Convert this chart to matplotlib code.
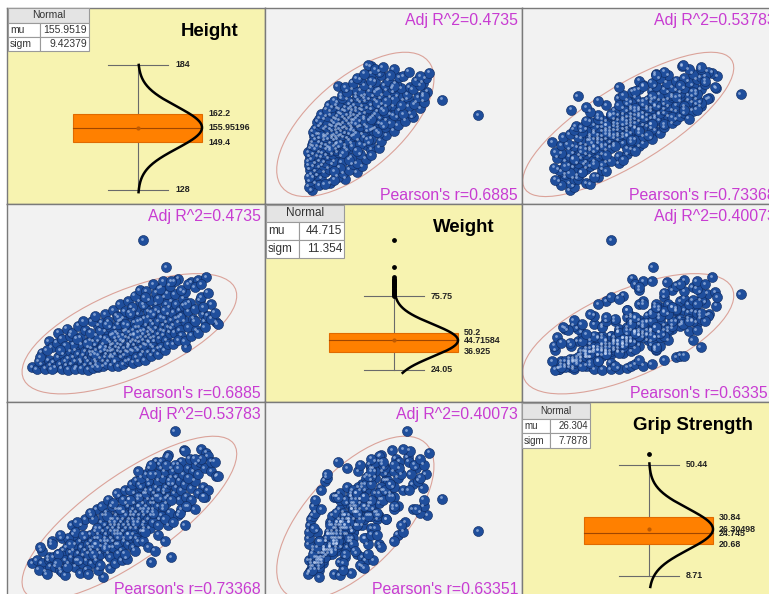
#Scatter matrix of height / weight / grip strength

import numpy as np
import matplotlib.pyplot as plt
from matplotlib.patches import Rectangle, Ellipse
from matplotlib.transforms import Affine2D, offset_copy

plt.rcParams['font.family'] = ['Liberation Sans', 'DejaVu Sans']

#one value per child, same order in all three lists
height = [128, 129.5, 131, 132, 133, 133.5, 133, 130,
          134.5, 135, 136, 136.5, 137, 137.5, 138, 138.5, 139, 139.5, 136,
          140, 140.5, 141, 141, 141.5, 142, 142.5, 143, 143, 143.5, 144, 144, 144.5, 145, 145, 145.5, 145.5, 146, 146, 146, 140.5,
          146.5, 147, 147, 147.5, 147.5, 148, 148, 148.5, 148.5, 149, 149, 149.5, 149.5, 150, 150, 150, 150.5, 150.5, 151, 151,
          151, 151.5, 151.5, 152, 152, 152, 146.5, 147, 148, 149, 150, 151.5, 152,
          152.5, 152.5, 153, 153, 153, 153.5, 153.5, 154, 154, 154, 154.5, 154.5, 155, 155, 155, 155.5, 155.5, 156, 156, 156,
          156.5, 156.5, 157, 157, 157, 157.5, 157.5, 158, 158, 158, 152.5, 153.5, 154, 155, 155.5, 156, 156.5, 157, 157.5, 158, 153, 154.5,
          158.5, 158.5, 159, 159, 159, 159.5, 159.5, 160, 160, 160, 160.5, 160.5, 161, 161, 161, 161.5, 161.5, 162, 162, 162,
          162.5, 162.5, 163, 163, 163, 163.5, 163.5, 164, 164, 164, 158.5, 159, 159.5, 160, 160.5, 161, 161.5, 162, 162.5, 163, 163.5, 164, 161.5,
          164.5, 164.5, 165, 165, 165, 165.5, 165.5, 166, 166, 166.5, 166.5, 167, 167, 167.5, 167.5, 168, 168, 168, 168.5, 168.5,
          169, 169, 169.5, 169.5, 170, 170, 170, 164.5, 165.5, 166, 167, 168.4, 168.7,
          170.5, 170.5, 171, 171, 171.5, 171.5, 172, 172, 172.5, 172.5, 173, 173, 173.5, 173.7, 174, 174, 174.5, 175, 175, 175.5, 176,
          176.5, 177, 177.5, 178, 178.5, 179, 179.5, 180, 180.5, 181, 182, 183.5, 184,
          131, 134, 130.5, 132.5, 134, 135.5, 137, 138, 139, 139.5, 136.5, 138.5,
          140, 141, 142, 142.5, 143, 144, 144.5, 145, 146, 146.5, 147, 147.5, 148, 148.5, 149, 149.5, 141.5, 143.5, 145.5, 147.5,
          150, 150.5, 151, 151.5, 152, 152.5, 153, 153.5, 154, 154.5, 155, 155.5, 156, 156.5, 157, 157.5, 158, 158.5, 159, 159.5,
          150.5, 152.5, 154, 156, 157.5, 159,
          160, 160.5, 161, 161.5, 162, 162.5, 163, 163.5, 164, 164.5, 165, 165.5, 166, 166.5, 167, 167.5, 168, 168.5, 169, 169.5,
          160, 162, 164, 166, 168,
          170.5, 171, 172, 173, 174, 175, 176, 177, 178, 179, 180, 181, 182, 170, 172.5, 174.5, 177, 179.5, 183]
weight = [26, 24.5, 28, 25, 31, 27, 44, 30,
          29, 26, 33, 28, 25, 35, 30, 27, 32, 37, 50,
          28, 33, 30, 38, 26, 35, 31, 29, 42, 34, 27, 37, 32, 40, 30, 36, 45, 28, 34, 39, 42,
          36, 31, 41, 38, 29, 44, 34, 39, 32, 47, 36, 30, 42, 38, 33, 51, 40, 35, 45, 37,
          30, 43, 39, 48, 34, 41, 44, 35, 55, 40, 46, 33, 37,
          42, 38, 46, 35, 53, 40, 44, 37, 49, 42, 39, 58, 45, 36, 41, 48, 43, 39, 51, 44,
          47, 37, 42, 55, 40, 46, 50, 43, 38, 62, 33, 50, 56, 33, 60, 34, 52, 36, 41, 48, 29, 47,
          45, 52, 41, 48, 57, 44, 39, 50, 46, 63, 43, 54, 47, 40, 59, 49, 45, 52, 42, 68,
          47, 55, 50, 44, 61, 48, 53, 46, 58, 41, 37, 66, 54, 38, 72, 51, 36, 60, 41, 65, 43, 52, 115,
          50, 56, 47, 62, 44, 53, 70, 49, 58, 46, 64, 52, 82, 55, 48, 60, 51, 75, 57, 45,
          63, 54, 68, 50, 59, 53, 72, 40, 66, 39, 61, 96, 77.5,
          55, 64, 77, 50, 60, 70, 88, 57, 52, 66, 62, 48, 74, 69, 58, 78.5, 40, 65, 54, 71, 85.5,
          60, 67, 52, 87, 73, 75, 63, 58, 89, 62, 70, 57.6, 56,
          36, 40, 33, 38, 24.5, 43, 46, 41, 24.3, 48, 38, 53,
          50, 24.5, 55, 47, 25, 52, 43, 24.2, 58, 25.5, 62, 48, 26, 52, 57, 26.5, 46, 58, 50, 27,
          63, 28, 58, 54, 27, 66, 30, 62, 26.5, 70, 59, 28, 65, 30, 72, 31, 68, 29, 76, 33,
          56, 49, 61, 56, 64, 49,
          30, 80, 34, 70, 31, 79, 36, 73, 34, 84, 37, 78, 35, 81, 40, 86, 38, 70, 42, 83,
          58, 75, 64, 74, 66,
          42, 86, 45, 80, 44, 84, 48, 82, 50, 84, 54, 78, 60, 86, 61, 70, 58, 68, 64]
grip = [13, 14, 13, 10.5, 14, 12, 15, 11,
        15, 12, 16, 11, 10.3, 17, 14, 18, 13, 16.5, 16,
        15, 17, 12, 19, 14, 16, 20, 13, 18, 15.5, 17, 21, 14, 19, 16, 22, 18, 13, 20, 17, 22,
        18, 15, 21, 19, 14, 22, 17, 24, 16, 20, 18.5, 8.7, 23, 21, 17.5, 25, 19, 22, 24, 16,
        20, 26, 18, 23, 21, 27, 16, 23, 21, 26, 20, 15, 25,
        24, 20, 26, 22, 25, 19, 28, 23, 27, 21, 25, 24, 22, 26, 30, 23, 27, 21, 29, 25,
        24, 28, 26, 31, 22, 27, 25, 29, 24, 28, 18, 30, 19, 17, 29, 20, 32, 19, 33, 21, 23, 34,
        27, 30, 25, 32, 28, 24, 29, 31, 26, 33, 28, 27, 34, 23, 30, 29, 32, 28, 26, 35,
        31, 36, 29, 33, 27, 30, 38, 28, 32, 13.4, 22, 35, 21, 34, 31, 37, 25, 24, 35, 39, 24, 36, 23.2,
        33, 30, 35, 32, 28, 37, 34, 31, 39, 27, 36, 33, 43, 40, 30, 35, 42, 36, 32, 37,
        47, 34, 38, 29, 43, 15, 40, 26, 41, 34, 28, 33.3, 46.5,
        38, 42, 54.7, 35, 40, 37, 28.2, 44, 33, 39, 45, 36, 41, 48.7, 38, 48.5, 34, 43, 31, 46, 36.7,
        42, 39, 44, 41, 45, 49, 37, 43, 47.8, 46.7, 42, 40.5, 40.6,
        17, 20, 18, 9.5, 19, 13, 21, 9.2, 21, 19, 22, 12,
        25, 23, 14, 10, 25, 27, 11, 9.5, 28, 27, 19, 30, 11, 12.5, 31, 28, 26, 22, 29, 24,
        18, 29, 33, 11.5, 31, 27, 13, 35, 16, 30, 14, 33, 36, 14.5, 22, 36, 38, 18, 26, 39,
        28, 32, 22, 16, 33, 17,
        20, 38, 40, 20, 30, 41, 18, 43, 41, 29, 17, 45, 22, 44, 45, 31, 20, 44, 25, 39,
        42, 23, 44, 25, 27,
        26, 44, 43, 30, 25, 40, 33, 30, 35, 46, 34, 36, 45, 33, 29, 31, 46, 34, 45]

names = ['Height', 'Weight', 'Grip Strength']

#normal fit table
mu_txt = ['155.9519', '44.715', '26.304']
sigm_txt = ['9.42379', '11.354', '7.7878']
mu = [155.95196, 44.71584, 26.30498]
sigma = [9.42379, 11.354, 7.7878]

#box plot numbers
whisk_lo = [128, 24.05, 8.71]
whisk_hi = [184, 75.75, 50.44]
q1 = [149.4, 36.925, 20.68]
q3 = [162.2, 50.2, 30.84]
mid_line = [155.95196, 44.71584, 24.745]
whisk_lbl = [('184', '128'), ('75.75', '24.05'), ('50.44', '8.71')]
box_vals = [[162.2, 155.95196, 149.4], [50.2, 44.71584, 36.925], [30.84, 26.30498, 24.745, 20.68]]
box_lbl = [['162.2', '155.95196', '149.4'], ['50.2', '44.71584', '36.925'], ['30.84', '26.30498', '24.745', '20.68']]
curve_lo = [127, 22, 4.6]
curve_hi = [184, 77.5, 51]

#pairs (0,1), (0,2), (1,2)
adj_r2 = [0.4735, 0.53783, 0.40073]
pearson = [0.6885, 0.73368, 0.63351]

#layout (pixels)
W, H = 769, 594
col_edges = [7, 265, 522, 780]
row_edges = [8, 204, 402, 598]
x_lims = [(120.5, 198.2), (1.0, 138.6), (1.4, 64.3)]
y_lims = [(121.7, 209.5), (1.6, 140.2), (2.1, 63.8)]
diag_ylims = [(121.7, 209.5), (1.6, 140.2), (0.44, 74.1)]
axis_off = [131, 129, 127]
tables = [(8, 8, [32, 49], [15, 14, 14], 7.5),
          (266, 205, [33, 45], [17, 18, 18], 8.5),
          (522, 403, [28, 40], [16, 14, 15], 7)]

fig = plt.figure(figsize=(W / 100, H / 100), dpi=100)
pxT = Affine2D().scale(1 / W, -1 / H).translate(0, 1) + fig.transFigure

data = [np.array(height), np.array(weight), np.array(grip)]
pair_idx = {(0, 1): 0, (0, 2): 1, (1, 2): 2}


def panel(r, c):
    x0, x1 = col_edges[c], col_edges[c + 1]
    y0, y1 = row_edges[r], row_edges[r + 1]
    ax = fig.add_axes([x0 / W, 1 - y1 / H, (x1 - x0) / W, (y1 - y0) / H])
    ax.set_xticks([])
    ax.set_yticks([])
    for s in ax.spines.values():
        s.set_color('#7a7a7a')
        s.set_linewidth(1.0)
    return ax


for r in range(3):
    for c in range(3):
        ax = panel(r, c)
        if r != c:
            x, y = data[c], data[r]
            ax.set_facecolor('#f2f2f2')
            ax.set_xlim(x_lims[c])
            ax.set_ylim(y_lims[r])
            #density ellipse
            cov = np.cov(x, y)
            vals, vecs = np.linalg.eigh(cov)
            order = vals.argsort()[::-1]
            vals, vecs = vals[order], vecs[:, order]
            ang = np.degrees(np.arctan2(vecs[1, 0], vecs[0, 0]))
            ew, eh = 2 * 2.6 * np.sqrt(vals)
            ax.add_patch(Ellipse((x.mean(), y.mean()), ew, eh, angle=ang, fill=False,
                                 ec='#dba39a', lw=0.8, zorder=1))
            ax.scatter(x, y, s=52, c='#1f4e9c', edgecolors='#0e2a60', linewidths=0.4, zorder=2)
            hl = offset_copy(ax.transData, fig=fig, x=-1.4, y=1.4, units='dots')
            ax.scatter(x, y, s=4, c='#c4d6f4', linewidths=0, alpha=0.6, transform=hl, zorder=3)

            k = pair_idx[(min(r, c), max(r, c))]
            xr = col_edges[c + 1] - 4
            fig.text(xr, row_edges[r] + 5, 'Adj R^2=' + str(adj_r2[k]), transform=pxT,
                     ha='right', va='top', fontsize=11.4, color='#c83cd2')
            fig.text(xr, row_edges[r + 1] - 4, "Pearson's r=" + str(pearson[k]), transform=pxT,
                     ha='right', va='baseline', fontsize=11.4, color='#c83cd2')
        else:
            i = r
            ax.set_facecolor('#f7f3b0')
            pw = col_edges[c + 1] - col_edges[c]
            ax.set_xlim(-axis_off[i], pw - axis_off[i])
            ax.set_ylim(diag_ylims[i])

            #axis line and whisker caps
            ax.plot([0, 0], [whisk_lo[i], whisk_hi[i]], color='#6a6a6a', lw=0.8, zorder=1)
            for v in (whisk_lo[i], whisk_hi[i]):
                ax.plot([-30, 30], [v, v], color='#6a6a6a', lw=0.8, zorder=1)
            ax.text(37, whisk_hi[i], whisk_lbl[i][0], fontsize=6.4, weight='bold', color='#222222', va='center')
            ax.text(37, whisk_lo[i], whisk_lbl[i][1], fontsize=6.4, weight='bold', color='#222222', va='center')

            #box
            ax.add_patch(Rectangle((-65, q1[i]), 129, q3[i] - q1[i], fc='#ff8000', ec='#e06a00', lw=0.8, zorder=2))
            ax.plot([-65, 64], [mid_line[i], mid_line[i]], color='#a04600', lw=0.8, zorder=3)
            ax.scatter([0], [mu[i]], s=4, c='#c05a00', zorder=3)
            for v, t in zip(box_vals[i], box_lbl[i]):
                ax.text(70, v, t, fontsize=6.4, weight='bold', color='#222222', va='center')

            #outliers
            out = data[i][data[i] > whisk_hi[i]]
            ax.scatter(np.zeros(len(out)), out, s=6, c='black', zorder=3)

            #normal curve
            yy = np.linspace(curve_lo[i], curve_hi[i], 200)
            xx = 64 * np.exp(-0.5 * ((yy - mu[i]) / sigma[i]) ** 2)
            ax.plot(xx, yy, color='black', lw=1.8, zorder=4)

            #title
            fig.text(col_edges[c + 1] - 27, row_edges[r] + 24, names[i], transform=pxT,
                     ha='right', va='center', fontsize=13.4, weight='bold', color='black')

            #Normal table
            tx, ty, cw, rh, fs = tables[i]
            tw = sum(cw)
            fig.add_artist(Rectangle((tx, ty), tw, rh[0], transform=pxT, fc='#e4e4e4', ec='#9a9a9a', lw=0.8))
            fig.text(tx + tw / 2, ty + rh[0] / 2, 'Normal', transform=pxT, ha='center', va='center',
                     fontsize=fs, color='#333333')
            yrow = ty + rh[0]
            for lbl, val, hgt in zip(['mu', 'sigm'], [mu_txt[i], sigm_txt[i]], rh[1:]):
                fig.add_artist(Rectangle((tx, yrow), cw[0], hgt, transform=pxT, fc='white', ec='#9a9a9a', lw=0.8))
                fig.add_artist(Rectangle((tx + cw[0], yrow), cw[1], hgt, transform=pxT, fc='white', ec='#9a9a9a', lw=0.8))
                fig.text(tx + 2, yrow + hgt / 2, lbl, transform=pxT, ha='left', va='center',
                         fontsize=fs, color='#333333')
                fig.text(tx + tw - 2, yrow + hgt / 2, val, transform=pxT, ha='right', va='center',
                         fontsize=fs, color='#333333')
                yrow += hgt

plt.savefig('out.png', dpi=100)
